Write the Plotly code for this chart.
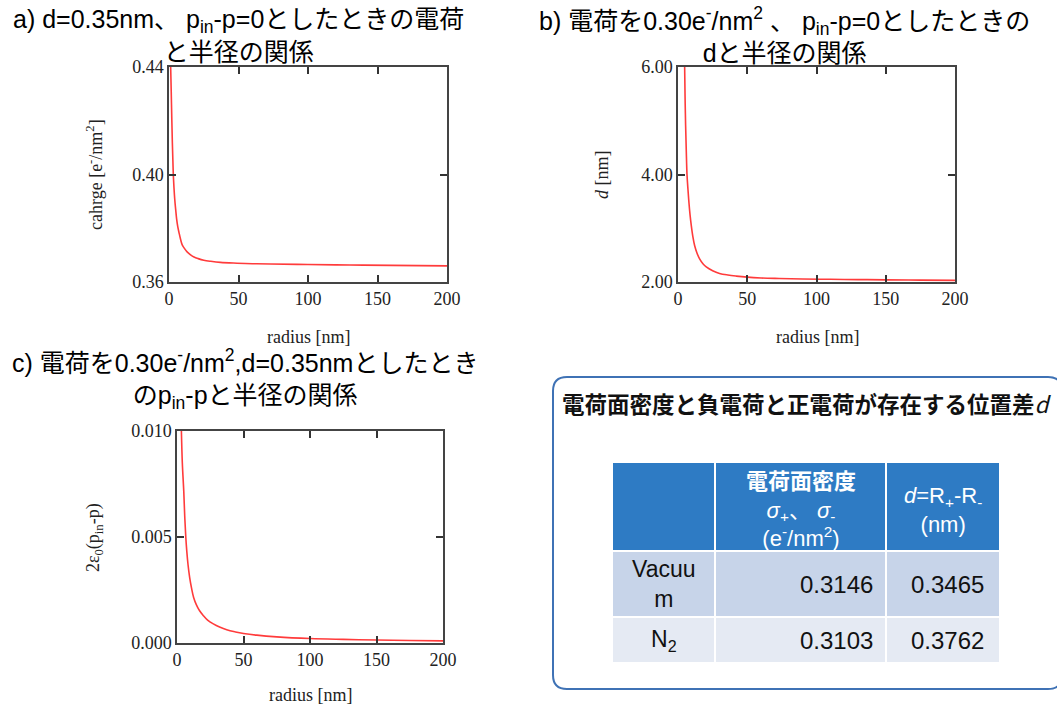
import plotly.graph_objects as go

W, H = 1057, 707


def px(x):
    return x / W


def py(y):
    return 1 - y / H


# ---------------- data ----------------
radius_a = [1.2, 1.6, 2.0, 2.4, 2.8, 3.1, 3.6, 4.1, 4.8, 5.5, 6.3, 7.2, 8.4, 9.6, 11.5, 13.2, 15.5, 18, 21, 25,
            30, 37, 49, 60, 73, 100, 130, 160, 200]
charge_a = [0.440, 0.431, 0.421, 0.412, 0.405, 0.400, 0.395, 0.391, 0.387, 0.3834, 0.3806, 0.3784, 0.3757, 0.3737,
            0.3722, 0.3711, 0.3701, 0.3693, 0.3687, 0.3681, 0.3677, 0.3673, 0.3670, 0.3668, 0.3667, 0.3665,
            0.3663, 0.3662, 0.3660]

radius_b = [4.8, 5.1, 5.5, 6.0, 6.5, 7.2, 7.9, 8.7, 9.6, 10.7, 12, 13.7, 15.6, 18, 20.4, 25, 30, 36, 42, 50, 60,
            73, 90, 110, 130, 150, 175, 200]
d_b = [6.0, 5.45, 4.91, 4.42, 4.00, 3.72, 3.48, 3.25, 3.05, 2.85, 2.68, 2.54, 2.43, 2.34, 2.28, 2.21, 2.16, 2.13,
       2.11, 2.09, 2.075, 2.065, 2.055, 2.05, 2.045, 2.04, 2.035, 2.03]

radius_c = [3.3, 4.0, 5.1, 5.8, 6.6, 7.4, 8.3, 9.5, 10.9, 12.5, 14.6, 17, 19.7, 23, 27.3, 32, 37.4, 44, 50, 60,
            75, 100, 125, 150, 175, 200]
p_c = [0.0100, 0.0085, 0.00714, 0.0060, 0.0050, 0.0043, 0.00369, 0.0031, 0.0026, 0.00215, 0.0018, 0.00152,
       0.0013, 0.00108, 0.0009, 0.00075, 0.00062, 0.00052, 0.00045, 0.00037, 0.00029, 0.00021, 0.00017,
       0.00014, 0.00012, 0.00010]

x_ticks = [0, 50, 100, 150, 200]
a_ticks = [0.36, 0.40, 0.44]
b_ticks = [2.0, 4.0, 6.0]
c_ticks = [0.000, 0.005, 0.010]

table_media = ["Vacuu<br>m", "N<sub>2</sub>"]
table_sigma = [0.3146, 0.3103]
table_d = [0.3465, 0.3762]
table_header = ["",
                "<b>電荷面密度</b><br><i>σ</i><sub>+</sub>、 <i>σ</i><sub>-</sub><br>(e<sup>-</sup>/nm<sup>2</sup>)",
                "<i>d</i>=R<sub>+</sub>-R<sub>-</sub><br>(nm)"]
row_kind = [0, 1, 2]          # header, Vacuum row, N2 row -> fill colour index
col_edges = [0, 103, 274, 388]  # table column boundaries (px inside table)
row_edges = [0, 89, 155, 201]   # table row boundaries (px inside table)

# ---------------- figure ----------------
LINE = "#ff3b3b"
SERIF = "Liberation Serif, Times New Roman, serif"
SANS = "Liberation Sans, Noto Sans CJK JP, sans-serif"
CJK = "Noto Sans CJK JP, Liberation Sans, sans-serif"

fig = go.Figure()
fig.add_trace(go.Scatter(x=radius_a, y=charge_a, mode="lines", line=dict(color=LINE, width=1.6, shape="spline"),
                         xaxis="x", yaxis="y", showlegend=False))
fig.add_trace(go.Scatter(x=radius_b, y=d_b, mode="lines", line=dict(color=LINE, width=1.6, shape="spline"),
                         xaxis="x2", yaxis="y2", showlegend=False))
fig.add_trace(go.Scatter(x=radius_c, y=p_c, mode="lines", line=dict(color=LINE, width=1.6, shape="spline"),
                         xaxis="x3", yaxis="y3", showlegend=False))

# table cells as a heatmap on its own axes
fig.add_trace(go.Heatmap(
    x=col_edges, y=row_edges, z=[[k] * 3 for k in row_kind],
    zmin=0, zmax=2, showscale=False, hoverinfo="skip", xgap=2, ygap=2,
    colorscale=[[0, "#2e7bc4"], [0.5, "#c7d4e9"], [1, "#e5eaf3"]],
    xaxis="x4", yaxis="y4"))

axis_common = dict(showline=True, linecolor="#444", linewidth=1.5, mirror="ticks", ticks="inside",
                   ticklen=7, tickwidth=1.5, tickcolor="#333", showgrid=False, zeroline=False,
                   tickfont=dict(family=SERIF, size=18, color="#222"), fixedrange=True)
hidden = dict(visible=False, showgrid=False, zeroline=False, fixedrange=True)

fig.update_layout(
    width=W, height=H, margin=dict(l=0, r=0, t=0, b=0, autoexpand=False),
    paper_bgcolor="white", plot_bgcolor="white", showlegend=False,
    xaxis=dict(domain=[px(169), px(447)], range=[0, 200], tickvals=x_ticks, anchor="y", **axis_common),
    yaxis=dict(domain=[py(282), py(67)], range=[0.36, 0.44], tickvals=a_ticks, tickformat=".2f",
               anchor="x", **axis_common),
    xaxis2=dict(domain=[px(678), px(955)], range=[0, 200], tickvals=x_ticks, anchor="y2", **axis_common),
    yaxis2=dict(domain=[py(282), py(67)], range=[2, 6], tickvals=b_ticks, tickformat=".2f",
                anchor="x2", **axis_common),
    xaxis3=dict(domain=[px(177), px(443)], range=[0, 200], tickvals=x_ticks, anchor="y3", **axis_common),
    yaxis3=dict(domain=[py(643), py(431)], range=[0, 0.010], tickvals=c_ticks, tickformat=".3f",
                anchor="x3", **axis_common),
    xaxis4=dict(domain=[px(612), px(1000)], range=[col_edges[0], col_edges[-1]], anchor="y4", **hidden),
    yaxis4=dict(domain=[py(663), py(462)], range=[row_edges[-1], row_edges[0]], anchor="x4", **hidden),
)

ann = []
TF = dict(family=SANS, size=25, color="black")
# panel titles (two-line, centred)
ann.append(dict(x=px(238), y=py(35), font=TF,
                text="a) d=0.35nm、 p<sub>in</sub>-p=0としたときの電荷<br>と半径の関係"))
ann.append(dict(x=px(784), y=py(35), font=TF,
                text="b) 電荷を0.30e<sup>-</sup>/nm<sup>2</sup> 、 p<sub>in</sub>-p=0としたときの<br>dと半径の関係"))
ann.append(dict(x=px(245), y=py(379), font=TF,
                text="c) 電荷を0.30e<sup>-</sup>/nm<sup>2</sup>,d=0.35nmとしたとき<br>のp<sub>in</sub>-pと半径の関係"))
# axis titles
AF = dict(family=SERIF, size=18, color="#222")
for xx, yy in [(308, 337), (817, 337), (310, 695)]:
    ann.append(dict(x=px(xx), y=py(yy), text="radius [nm]", font=AF))
ann.append(dict(x=px(94), y=py(175), text="cahrge [e<sup>-</sup>/nm<sup>2</sup>]", textangle=-90, font=AF))
ann.append(dict(x=px(602), y=py(175), text="<i>d</i> [nm]", textangle=-90, font=AF))
ann.append(dict(x=px(94), y=py(538), text="2ε<sub>0</sub>(p<sub>in</sub>-p)", textangle=-90, font=AF))
# table panel title
ann.append(dict(x=px(807), y=py(403), text="<b>電荷面密度と負電荷と正電荷が存在する位置差</b><i>d</i>",
                font=dict(family=CJK, size=22.5, color="#111")))
for a in ann:
    a.update(xref="paper", yref="paper", showarrow=False, xanchor="center", yanchor="middle", align="center")

# table texts positioned in table-axis coordinates
tab = []
for j, txt in enumerate(table_header):
    if txt:
        tab.append(dict(x=(col_edges[j] + col_edges[j + 1]) / 2, y=(row_edges[0] + row_edges[1]) / 2 + 3,
                        text=txt, xanchor="center", font=dict(family=SANS, size=22, color="white")))
for i, name in enumerate(table_media):
    yc = (row_edges[i + 1] + row_edges[i + 2]) / 2
    tab.append(dict(x=(col_edges[0] + col_edges[1]) / 2, y=yc, text=name, xanchor="center",
                    font=dict(family=SANS, size=23, color="#111")))
    tab.append(dict(x=col_edges[2], y=yc, text=f"{table_sigma[i]:.4f}", xanchor="right", xshift=-11,
                    font=dict(family=SANS, size=24, color="#111")))
    tab.append(dict(x=col_edges[3], y=yc, text=f"{table_d[i]:.4f}", xanchor="right", xshift=-14,
                    font=dict(family=SANS, size=24, color="#111")))
for a in tab:
    a.update(xref="x4", yref="y4", showarrow=False, yanchor="middle", align="center")

fig.update_layout(annotations=ann + tab)

# rounded panel border
x0, x1, y0, y1, r = 553, 1062, 377, 689, 14
path = (f"M {px(x0 + r)},{py(y0)} L {px(x1 - r)},{py(y0)} Q {px(x1)},{py(y0)} {px(x1)},{py(y0 + r)} "
        f"L {px(x1)},{py(y1 - r)} Q {px(x1)},{py(y1)} {px(x1 - r)},{py(y1)} "
        f"L {px(x0 + r)},{py(y1)} Q {px(x0)},{py(y1)} {px(x0)},{py(y1 - r)} "
        f"L {px(x0)},{py(y0 + r)} Q {px(x0)},{py(y0)} {px(x0 + r)},{py(y0)} Z")
fig.add_shape(type="path", path=path, xref="paper", yref="paper",
              line=dict(color="#3f72b5", width=2), layer="below")

# remove the default 8px page margin so the figure fills the window exactly
fig.write_html("out.html", config={"displayModeBar": False},
               post_script="document.body.style.margin='0';document.body.style.overflow='hidden';")
